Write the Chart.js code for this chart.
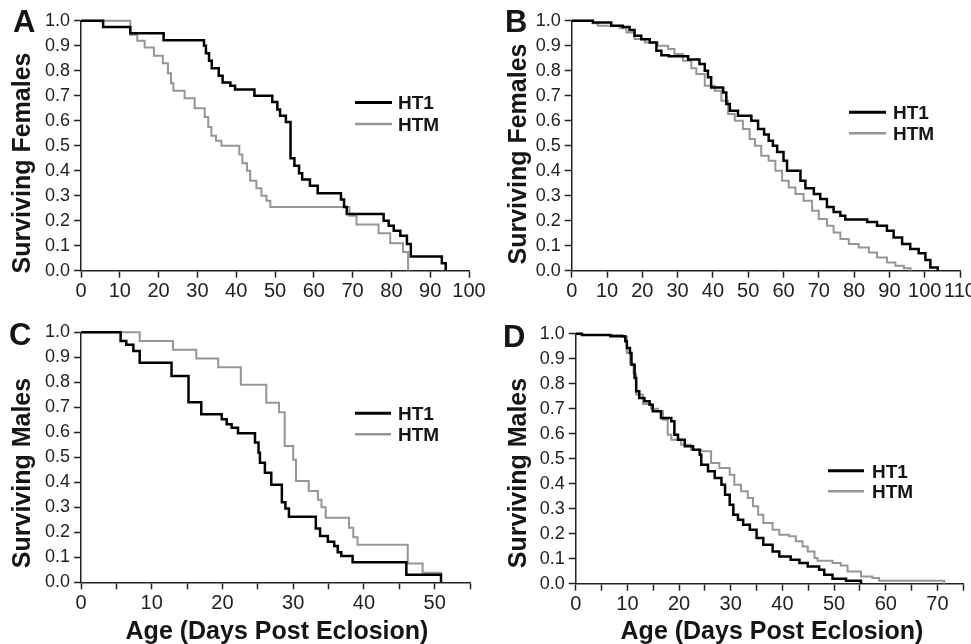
<!DOCTYPE html>
<html><head><meta charset="utf-8">
<script src="https://cdn.jsdelivr.net/npm/chart.js@4.4.1/dist/chart.umd.min.js"></script>
<style>
html,body{margin:0;padding:0;background:#fff;}
#wrap{position:relative;width:971px;height:644px;overflow:hidden;background:#fff;}
canvas{position:absolute;}
.t{position:absolute;font-family:'Liberation Sans',Arial,sans-serif;font-weight:bold;color:#151515;white-space:nowrap;}
.letter{font-size:31px;line-height:31px;}
.ytitle{font-size:25px;line-height:25px;transform:translate(-50%,-50%) rotate(-90deg);}
.xtitle{font-size:25px;line-height:25px;transform:translateX(-50%);}
</style></head>
<body><div id="wrap">
<canvas id="cA" width="495" height="305" style="left:0px;top:0px"></canvas>
<canvas id="cB" width="500" height="305" style="left:480px;top:0px"></canvas>
<canvas id="cC" width="495" height="344" style="left:0px;top:300px"></canvas>
<canvas id="cD" width="500" height="344" style="left:480px;top:300px"></canvas>
<div class="t letter" style="left:13px;top:6px">A</div>
<div class="t letter" style="left:505px;top:6px">B</div>
<div class="t letter" style="left:9px;top:319px">C</div>
<div class="t letter" style="left:503px;top:321px">D</div>
<div class="t ytitle" style="left:21px;top:163px">Surviving Females</div>
<div class="t ytitle" style="left:517px;top:154px">Surviving Females</div>
<div class="t ytitle" style="left:21px;top:473px">Surviving Males</div>
<div class="t ytitle" style="left:517px;top:473px">Surviving Males</div>
<div class="t xtitle" style="left:277px;top:618px">Age (Days Post Eclosion)</div>
<div class="t xtitle" style="left:772px;top:618px">Age (Days Post Eclosion)</div>
</div>
<script>
// ---------------- DATA ----------------
const SERIES_NAMES = ['HT1', 'HTM'];

const A_HT1_DAY  = [0, 5.7, 12.7, 21.3, 31.7, 32.2, 33.0, 33.7, 35.5, 36.5, 38.5, 39.7, 44.7, 49.3, 50.6, 51.3, 52.8, 54.0, 55.0, 56.2, 57.0, 59.0, 61.0, 67.0, 67.8, 68.5, 78.0, 79.3, 80.6, 82.3, 84.0, 85.0, 93.0, 94.0];
const A_HT1_SURV = [1.0, 0.975, 0.95, 0.922, 0.90, 0.87, 0.84, 0.81, 0.78, 0.753, 0.74, 0.725, 0.70, 0.675, 0.645, 0.62, 0.595, 0.45, 0.42, 0.39, 0.365, 0.34, 0.31, 0.285, 0.255, 0.227, 0.20, 0.18, 0.16, 0.14, 0.107, 0.057, 0.03, 0.0];
const A_HTM_DAY  = [0, 12.7, 14.5, 16.4, 18.8, 21.1, 22.4, 23.2, 23.8, 26.7, 29.3, 31.9, 32.8, 33.6, 34.8, 36.2, 40.8, 41.6, 42.8, 43.6, 45.2, 46.5, 47.8, 48.8, 69.2, 71.0, 76.7, 79.7, 83.0, 84.3];
const A_HTM_SURV = [1.0, 0.944, 0.92, 0.893, 0.86, 0.83, 0.79, 0.75, 0.72, 0.69, 0.65, 0.615, 0.575, 0.54, 0.52, 0.50, 0.465, 0.43, 0.40, 0.36, 0.33, 0.30, 0.28, 0.255, 0.22, 0.185, 0.15, 0.11, 0.075, 0.0];

const B_HT1_DAY  = [0, 6.0, 11.2, 14.5, 16.4, 17.8, 19.7, 22.1, 24.0, 25.4, 27.5, 33.0, 36.2, 37.7, 38.6, 39.5, 42.9, 43.8, 44.8, 47.1, 50.9, 52.8, 54.5, 55.8, 57.0, 58.2, 60.0, 61.0, 64.8, 66.2, 68.6, 70.4, 72.3, 74.2, 76.1, 77.5, 83.7, 86.5, 89.3, 91.2, 93.6, 95.9, 98.3, 100.2, 101.6, 103.7];
const B_HT1_SURV = [1.0, 0.993, 0.98, 0.975, 0.963, 0.94, 0.926, 0.913, 0.88, 0.862, 0.858, 0.845, 0.827, 0.80, 0.774, 0.733, 0.713, 0.667, 0.64, 0.62, 0.60, 0.567, 0.545, 0.52, 0.50, 0.475, 0.44, 0.40, 0.36, 0.33, 0.307, 0.287, 0.255, 0.235, 0.22, 0.205, 0.195, 0.18, 0.16, 0.133, 0.107, 0.087, 0.07, 0.043, 0.013, 0.0];
const B_HTM_DAY  = [0, 6.0, 7.4, 13.6, 15.5, 17.8, 20.7, 24.4, 27.3, 29.1, 31.5, 33.9, 35.3, 37.7, 40.5, 42.4, 44.3, 46.2, 48.5, 50.4, 51.9, 53.7, 55.8, 57.7, 59.6, 61.5, 63.4, 65.7, 68.1, 70.0, 72.3, 74.2, 76.1, 78.5, 81.3, 84.2, 86.5, 89.3, 91.7, 94.1, 96.0];
const B_HTM_SURV = [1.0, 0.99, 0.98, 0.97, 0.953, 0.927, 0.913, 0.90, 0.887, 0.867, 0.84, 0.81, 0.787, 0.74, 0.72, 0.68, 0.627, 0.60, 0.567, 0.527, 0.50, 0.46, 0.44, 0.40, 0.36, 0.333, 0.307, 0.28, 0.24, 0.207, 0.18, 0.153, 0.127, 0.107, 0.093, 0.073, 0.053, 0.033, 0.02, 0.01, 0.0];

const C_HT1_DAY  = [0, 5.6, 6.4, 7.4, 8.3, 12.8, 15.2, 17.0, 19.9, 20.6, 21.3, 22.2, 24.6, 25.1, 25.3, 26.0, 26.9, 28.4, 28.9, 29.4, 33.2, 33.8, 34.9, 35.8, 36.3, 36.8, 38.4, 46.0, 50.9];
const C_HT1_SURV = [1.0, 0.965, 0.95, 0.925, 0.878, 0.825, 0.72, 0.672, 0.652, 0.632, 0.618, 0.596, 0.559, 0.518, 0.478, 0.438, 0.39, 0.32, 0.295, 0.262, 0.215, 0.185, 0.162, 0.145, 0.12, 0.105, 0.08, 0.03, 0.0];
const C_HTM_DAY  = [0, 8.3, 13.0, 16.3, 19.4, 22.6, 26.2, 28.0, 28.8, 30.0, 30.4, 32.2, 33.5, 34.0, 34.6, 37.9, 38.5, 39.1, 46.2, 48.3, 50.9];
const C_HTM_SURV = [1.0, 0.965, 0.93, 0.895, 0.86, 0.79, 0.718, 0.68, 0.545, 0.49, 0.405, 0.365, 0.33, 0.30, 0.258, 0.218, 0.18, 0.15, 0.075, 0.038, 0.0];

const D_HT1_DAY  = [0, 1.2, 6.7, 9.6, 9.9, 10.5, 10.8, 11.4, 11.7, 12.3, 13.3, 14.3, 14.9, 16.5, 18.5, 19.1, 19.8, 21.1, 22.7, 24.0, 24.3, 25.6, 26.9, 28.2, 28.9, 29.8, 30.5, 31.4, 32.4, 33.7, 35.0, 36.3, 38.1, 39.4, 41.6, 43.3, 44.9, 47.1, 48.1, 49.7, 52.3, 55.2];
const D_HT1_SURV = [1.0, 0.995, 0.99, 0.97, 0.943, 0.923, 0.876, 0.823, 0.77, 0.743, 0.73, 0.716, 0.69, 0.663, 0.65, 0.596, 0.576, 0.55, 0.536, 0.516, 0.476, 0.45, 0.423, 0.396, 0.356, 0.316, 0.276, 0.256, 0.236, 0.216, 0.183, 0.156, 0.129, 0.109, 0.096, 0.083, 0.069, 0.056, 0.036, 0.02, 0.012, 0.0];
const D_HTM_DAY  = [0, 1.2, 9.0, 9.9, 10.5, 11.2, 11.7, 13.0, 14.6, 15.9, 16.9, 17.8, 18.5, 20.4, 22.3, 24.3, 26.2, 27.8, 29.8, 30.7, 32.0, 33.3, 34.3, 35.3, 36.3, 38.1, 39.4, 41.3, 42.6, 43.9, 44.9, 46.2, 46.8, 49.7, 51.3, 52.6, 55.2, 57.4, 58.7, 71.3];
const D_HTM_SURV = [1.0, 0.995, 0.987, 0.923, 0.88, 0.84, 0.757, 0.719, 0.70, 0.69, 0.656, 0.596, 0.576, 0.556, 0.536, 0.53, 0.483, 0.463, 0.436, 0.396, 0.37, 0.343, 0.31, 0.276, 0.243, 0.216, 0.196, 0.19, 0.17, 0.149, 0.129, 0.103, 0.092, 0.083, 0.073, 0.049, 0.029, 0.023, 0.012, 0.0];

// axis ranges / tick steps
const A_X_MAX = 100, A_X_STEP = 10, A_X_LABEL_EVERY = 10;
const B_X_MAX = 110, B_X_STEP = 10, B_X_LABEL_EVERY = 10;
const C_X_MAX = 55,  C_X_STEP = 5,  C_X_LABEL_EVERY = 10;
const D_X_MAX = 75,  D_X_STEP = 5,  D_X_LABEL_EVERY = 10;
const Y_MIN = 0, Y_MAX = 1, Y_STEP = 0.1;

// ---------------- RENDER ----------------
Chart.defaults.font.family = "'Liberation Sans', Arial, sans-serif";
Chart.defaults.color = '#1a1a1a';

const COLOR_HT1 = '#000000';
const COLOR_HTM = '#969696';
const XH = 30;

const legendPlugin = {
  id: 'insideLegend',
  afterDraw(chart, args, opts) {
    const ctx = chart.ctx;
    ctx.save();
    chart.data.datasets.forEach((ds, i) => {
      const y = opts.y + i * opts.gap;
      ctx.strokeStyle = ds.borderColor;
      ctx.lineWidth = ds.borderWidth + 0.5;
      ctx.beginPath(); ctx.moveTo(opts.x0, y); ctx.lineTo(opts.x1, y); ctx.stroke();
      ctx.fillStyle = '#151515';
      ctx.font = "bold 19px 'Liberation Sans', Arial, sans-serif";
      ctx.textAlign = 'left';
      ctx.textBaseline = 'alphabetic';
      ctx.fillText(ds.label, opts.tx, y + 6.8);
    });
    ctx.restore();
  }
};

function pts(days, surv) { return days.map((d, i) => ({ x: d, y: surv[i] })); }

function makePanel(id, rect, area, xMax, xStep, labelEvery, ht1, htm, leg) {
  const padTop = area.t - rect.top;
  const padRight = rect.left + rect.w - area.r;
  const padBottom = rect.top + rect.h - area.b - XH;
  const yW = area.l - rect.left;
  new Chart(document.getElementById(id), {
    type: 'line',
    data: {
      datasets: [
        { label: SERIES_NAMES[0], data: ht1, borderColor: COLOR_HT1, borderWidth: 2.5, stepped: 'before', pointRadius: 0, fill: false, clip: 6 },
        { label: SERIES_NAMES[1], data: htm, borderColor: COLOR_HTM, borderWidth: 2, stepped: 'before', pointRadius: 0, fill: false, clip: 6 }
      ]
    },
    options: {
      responsive: false, animation: false, events: [],
      layout: { padding: { left: 0, top: padTop, right: padRight, bottom: padBottom } },
      plugins: {
        legend: { display: false }, tooltip: { enabled: false },
        insideLegend: { x0: leg.x0 - rect.left, x1: leg.x1 - rect.left, tx: leg.tx - rect.left, y: leg.y - rect.top, gap: leg.gap }
      },
      scales: {
        x: {
          type: 'linear', min: 0, max: xMax,
          afterFit(s) { s.height = XH; },
          border: { display: true, color: '#222', width: 1.5 },
          grid: { drawOnChartArea: false, drawTicks: true, tickLength: 7, tickWidth: 1.5, tickColor: '#222' },
          ticks: {
            stepSize: xStep, autoSkip: false, maxRotation: 0, padding: 2, color: '#222',
            font: { family: "'Liberation Sans Narrow', 'Liberation Sans', Arial, sans-serif", size: 20 },
            callback: v => (Math.round(v) % labelEvery === 0 ? String(Math.round(v)) : '')
          }
        },
        y: {
          type: 'linear', min: Y_MIN, max: Y_MAX,
          afterFit(s) { s.width = yW; },
          border: { display: true, color: '#222', width: 1.5 },
          grid: { drawOnChartArea: false, drawTicks: true, tickLength: 7, tickWidth: 1.5, tickColor: '#222' },
          ticks: { stepSize: Y_STEP, autoSkip: false, padding: 4, color: '#222', font: { size: 18 }, callback: v => v.toFixed(1) }
        }
      }
    },
    plugins: [legendPlugin]
  });
}

makePanel('cA', { left: 0, top: 0, w: 495, h: 305 }, { l: 81, t: 20.7, r: 469, b: 270.7 },
  A_X_MAX, A_X_STEP, A_X_LABEL_EVERY, pts(A_HT1_DAY, A_HT1_SURV), pts(A_HTM_DAY, A_HTM_SURV),
  { x0: 355, x1: 392, tx: 398, y: 102.5, gap: 21.5 });
makePanel('cB', { left: 480, top: 0, w: 500, h: 305 }, { l: 571.7, t: 20.7, r: 960, b: 270.7 },
  B_X_MAX, B_X_STEP, B_X_LABEL_EVERY, pts(B_HT1_DAY, B_HT1_SURV), pts(B_HTM_DAY, B_HTM_SURV),
  { x0: 849, x1: 886, tx: 893, y: 112.3, gap: 21 });
makePanel('cC', { left: 0, top: 300, w: 495, h: 344 }, { l: 81, t: 332.3, r: 470, b: 582.3 },
  C_X_MAX, C_X_STEP, C_X_LABEL_EVERY, pts(C_HT1_DAY, C_HT1_SURV), pts(C_HTM_DAY, C_HTM_SURV),
  { x0: 355, x1: 391, tx: 398, y: 413.3, gap: 21 });
makePanel('cD', { left: 480, top: 300, w: 500, h: 344 }, { l: 575.7, t: 333.7, r: 963.3, b: 583.7 },
  D_X_MAX, D_X_STEP, D_X_LABEL_EVERY, pts(D_HT1_DAY, D_HT1_SURV), pts(D_HTM_DAY, D_HTM_SURV),
  { x0: 828, x1: 864, tx: 872, y: 470.7, gap: 20.6 });
</script>
</body></html>
